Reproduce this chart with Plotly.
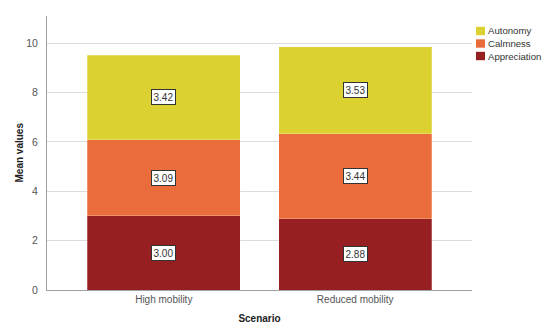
import plotly.graph_objects as go

categories = ["High mobility", "Reduced mobility"]
appreciation = [3.00, 2.88]
calmness = [3.09, 3.44]
autonomy = [3.42, 3.53]
series_names = ["Appreciation", "Calmness", "Autonomy"]
series_values = [appreciation, calmness, autonomy]
colors = ["#961F22", "#EB6C3B", "#DBD232"]
y_ticks = [0, 2, 4, 6, 8, 10]

FONT = "Liberation Sans, Arial, sans-serif"

# page offset from default body margin
OFF = 8
W, H = 550 - OFF, 335 - OFF
L, R, T, B = 47 - OFF, 78, 16 - OFF, 45
pw, ph = W - L - R, H - T - B


def px(xpage):
    return (xpage - OFF - L) / pw


def py(ypage):
    return 1 - (ypage - OFF - T) / ph


fig = go.Figure()
for name, vals, col in zip(series_names, series_values, colors):
    fig.add_trace(go.Bar(
        x=categories, y=vals, name=name, marker_color=col,
        marker_line=dict(color="rgba(255,255,255,0.5)", width=0.5),
        width=0.8, showlegend=False, hoverinfo="x+y+name",
    ))

# value labels in boxes at segment centres
annotations = []
for i, cat in enumerate(categories):
    base = 0.0
    for vals in series_values:
        v = vals[i]
        annotations.append(dict(
            x=cat, y=base + v / 2, xref="x", yref="y", text=f"{v:.2f}",
            showarrow=False, font=dict(family=FONT, size=10, color="#333333"),
            bgcolor="white", bordercolor="#333333", borderwidth=1, borderpad=1.5,
        ))
        base += v

# custom legend (top to bottom: Autonomy, Calmness, Appreciation)
shapes = []
leg_y = [31, 43.5, 56]
for yc, name, col in zip(leg_y, series_names[::-1], colors[::-1]):
    shapes.append(dict(type="rect", xref="paper", yref="paper",
                       x0=px(476), x1=px(485), y0=py(yc + 4.2), y1=py(yc - 4.2),
                       fillcolor=col, line=dict(width=0)))
    annotations.append(dict(x=px(486), y=py(yc), xref="paper", yref="paper",
                            text=name, showarrow=False, xanchor="left", yanchor="middle",
                            font=dict(family=FONT, size=9.6, color="#333333")))

# y-axis title
annotations.append(dict(x=px(18.5), y=py(153), xref="paper", yref="paper",
                        text="<b>Mean values</b>", showarrow=False, textangle=-90,
                        xanchor="center", yanchor="middle",
                        font=dict(family=FONT, size=10, color="#222222")))

fig.update_layout(
    barmode="stack",
    width=W, height=H,
    margin=dict(l=L, r=R, t=T, b=B, pad=0, autoexpand=False),
    paper_bgcolor="white", plot_bgcolor="white",
    font=dict(family=FONT, size=10, color="#555555"),
    annotations=annotations, shapes=shapes,
    xaxis=dict(range=[-0.61, 1.61], showline=True, linecolor="#A0A0A0", linewidth=1,
               ticks="", tickfont=dict(size=10, color="#555555"), automargin=False,
               title=dict(text="<b>Scenario</b>", font=dict(size=10, color="#222222"), standoff=10)),
    yaxis=dict(range=[0, 11.1], tickvals=y_ticks, showline=True, linecolor="#A0A0A0", linewidth=1,
               showgrid=True, gridcolor="#DCDCDC", gridwidth=1, zeroline=False, automargin=False,
               ticks="", ticklabelstandoff=6, tickfont=dict(size=10.5, color="#555555")),
    bargap=0.2,
)

fig.write_html("out.html")
